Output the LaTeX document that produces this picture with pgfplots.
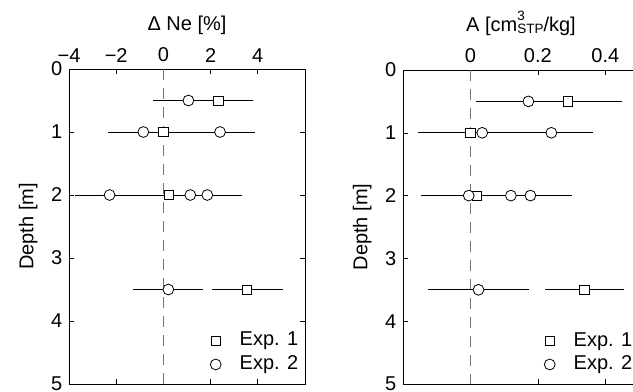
\documentclass[border=0pt]{standalone}
\usepackage{pgfplots}
\pgfplotsset{compat=1.18}
\usepackage{fontspec}
\setmainfont{Liberation Sans}
\newcommand{\bigf}{\fontsize{20bp}{24bp}\selectfont}
\newcommand{\smf}{\fontsize{13.5bp}{14bp}\selectfont}
\begin{document}
\bigf
\begin{tikzpicture}
\path[use as bounding box] (0bp,0bp) rectangle (633bp,-392bp);
\pgfplotsset{
 myax/.style={
  scale only axis, width=236bp, height=315bp,
  y dir=reverse, ymin=0, ymax=5, ytick={0,1,2,3,4,5},
  xticklabel pos=upper,
  tick align=inside, major tick length=5bp,
  tick style={black, line width=0.6bp},
  axis line style={black, line width=0.9bp},
  every tick label/.append style={font=\bigf},
  label style={font=\bigf},
  /pgf/number format/assume math mode=true,
  ylabel={Depth [m]},
  legend style={draw=none, fill=none, at={(0.985,0.025)}, anchor=south east, font=\bigf, inner sep=1bp, row sep=3bp},
  legend cell align=left,
  legend image code/.code={\draw[##1] plot coordinates {(0bp,0bp)}; \path[draw=none] (-6bp,0bp) -- (22bp,0bp);},
 },
 eb/.style={only marks, mark=none, forget plot, error bars/.cd, x dir=both, x explicit, error mark=none,
   error bar style={black, line width=0.65bp}},
 sq/.style={only marks, mark=square*, mark size=4.6bp, mark options={draw=black, fill=white, line width=0.8bp}},
 ci/.style={only marks, mark=*, mark size=5.4bp, mark options={draw=black, fill=white, line width=0.8bp}},
 zl/.style={forget plot, draw=black!55, line width=1.3bp, dash pattern=on 11bp off 8bp},
}
\pgfplotstableread{
x y e
2.33 0.5 1.48
0 1 1.48
0.25 2 1.48
3.55 3.5 1.5
}\leftA
\pgfplotstableread{
x y e
1.06 0.5 1.48
-0.85 1 1.48
2.4 1 1.48
-2.28 2 1.48
1.14 2 1.48
1.86 2 1.48
0.21 3.5 1.48
}\leftB
\pgfplotstableread{
x y e
0.29 0.5 0.16
0 1 0.155
0.018 2 0.155
0.338 3.5 0.117
}\rightA
\pgfplotstableread{
x y e
0.172 0.5 0.155
0.035 1 0.13
0.24 1 0.124
-0.005 2 0.143
0.12 2 0.124
0.178 2 0.124
0.024 3.5 0.151
}\rightB
\begin{axis}[myax, at={(69bp,-69bp)}, anchor=north west,
  xmin=-4, xmax=6, xtick={-4,-2,0,2,4}, xticklabels={−4,−2,0,2,4},
  xlabel={Δ Ne [\%]}]
\addplot[zl] coordinates {(0,0) (0,5)};
\addplot[eb] table[x=x, y=y, x error=e] {\leftA};
\addplot[eb] table[x=x, y=y, x error=e] {\leftB};
\addplot[sq] table[x=x, y=y] {\leftA};
\addplot[ci] table[x=x, y=y] {\leftB};
\legend{Exp. 1, Exp. 2}
\end{axis}
\begin{axis}[myax, at={(403bp,-70bp)}, anchor=north west, height=314bp,
  xmin=-0.2, xmax=0.5, xtick={0,0.2,0.4}, xticklabels={0,0.2,0.4},
  xlabel={A [cm\rlap{\raisebox{11bp}{\smf 3}}\raisebox{-2.5bp}{\smf STP}/kg]}]
\addplot[zl] coordinates {(0,0) (0,5)};
\addplot[eb] table[x=x, y=y, x error=e] {\rightA};
\addplot[eb] table[x=x, y=y, x error=e] {\rightB};
\addplot[sq] table[x=x, y=y] {\rightA};
\addplot[ci] table[x=x, y=y] {\rightB};
\legend{Exp. 1, Exp. 2}
\end{axis}
\end{tikzpicture}
\end{document}
